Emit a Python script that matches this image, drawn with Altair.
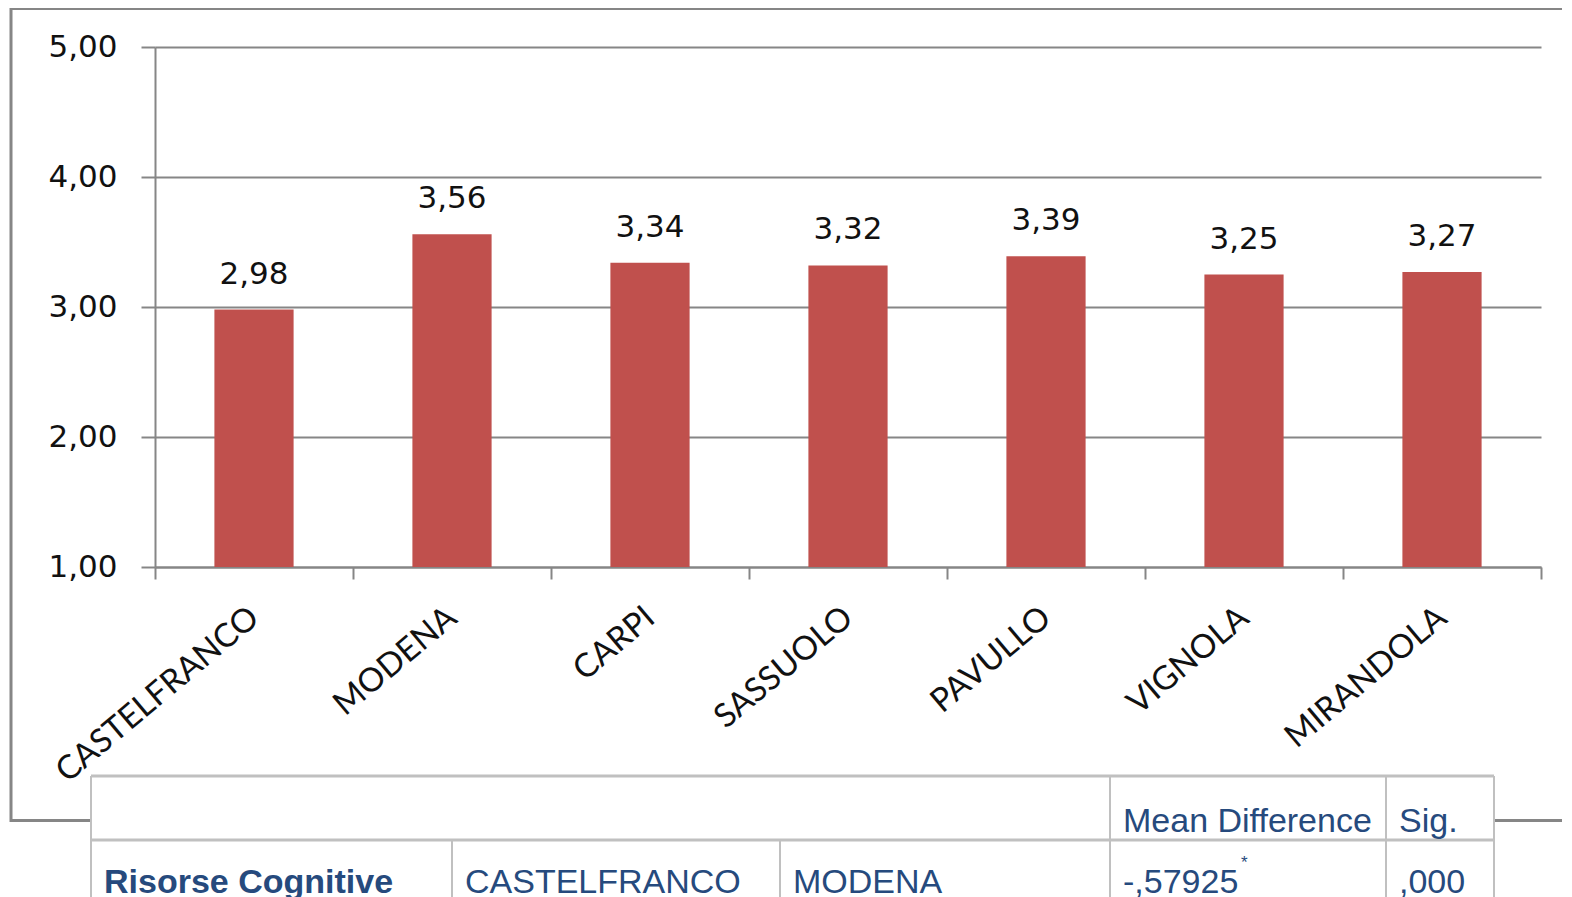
import altair as alt
import pandas as pd

# ---------------- data ----------------
cities = ["CASTELFRANCO", "MODENA", "CARPI", "SASSUOLO", "PAVULLO", "VIGNOLA", "MIRANDOLA"]
means = [2.98, 3.56, 3.34, 3.32, 3.39, 3.25, 3.27]
y_ticks = [1, 2, 3, 4, 5]

table_header = ["", "", "", "Mean Difference", "Sig."]
table_row = ["Risorse Cognitive", "CASTELFRANCO", "MODENA", "-,57925", ",000"]
table_note = "*"

# ---------------- layout / style ----------------
GRAY = "#868686"
BAR = "#C0504D"
TBL_TEXT = "#264A7D"
TBL_LINE = "#C0C0C0"

# page-pixel layout of the overlaid table (column edges, row lines)
COL_EDGES = [91, 452, 780, 1110, 1386, 1494]
ROW_TOP, ROW_HEAD, ROW_BOTTOM = 776, 840, 920
HEAD_BASE, BODY_BASE = 832, 893
TEXT_INSET = 13

df = pd.DataFrame({"city": cities, "mean": means})
df["label"] = [f"{v:.2f}".replace(".", ",") for v in means]

PX = alt.Scale(domain=[0, 1572], range=[-155, 1417])
PY = alt.Scale(domain=[0, 897], range=[-47, 850])

# ---------------- main chart ----------------
x_enc = alt.X(
    "city:N", sort=cities,
    scale=alt.Scale(paddingInner=0, paddingOuter=0),
    axis=alt.Axis(
        title=None, tickBand="extent", labelAngle=320, labelAlign="right",
        labelBaseline="middle", labelFont="Lato", labelFontSize=33,
        labelColor="#111111", labelPadding=34, labelOverlap=False, labelLimit=1000,
        domainColor=GRAY, domainWidth=2, tickColor=GRAY, tickWidth=2, tickSize=12,
    ),
)
y_enc = alt.Y(
    "mean:Q",
    scale=alt.Scale(domain=[1, 5], nice=False, zero=False),
    axis=alt.Axis(
        title=None, values=y_ticks,
        labelExpr="replace(format(datum.value, '.2f'), '.', ',')",
        labelFont="DejaVu Sans", labelFontSize=31, labelColor="#111111",
        labelPadding=24, grid=True, gridColor=GRAY, gridWidth=2,
        domainColor=GRAY, domainWidth=2, tickColor=GRAY, tickWidth=2, tickSize=14,
    ),
)

bars = alt.Chart(df).mark_bar(color=BAR, width=alt.RelativeBandSize(0.4)).encode(
    x=x_enc, y=y_enc, y2=alt.datum(1)
)
labels = alt.Chart(df).mark_text(
    dy=-26, baseline="alphabetic", font="DejaVu Sans", fontSize=31, color="#111111"
).encode(x=alt.X("city:N", sort=cities), y="mean:Q", text="label:N")

main = alt.layer(bars, labels)

# ---------------- outer frame ----------------
frame_df = pd.DataFrame({"k": [0]})
frame = alt.Chart(frame_df).mark_rect(fillOpacity=0, stroke=GRAY, strokeWidth=3).encode(
    x=alt.value(-144), x2=alt.value(1460), y=alt.value(-38.5), y2=alt.value(773.5)
)

# ---------------- table overlay ----------------
bg_df = pd.DataFrame({"x": [COL_EDGES[0]], "x2": [COL_EDGES[-1]], "y": [ROW_TOP], "y2": [ROW_BOTTOM]})
bg = alt.Chart(bg_df).mark_rect(color="white").encode(
    x=alt.X("x:Q", scale=PX, axis=None), x2="x2:Q",
    y=alt.Y("y:Q", scale=PY, axis=None), y2="y2:Q",
)

segs = []
segs.append((COL_EDGES[0], COL_EDGES[-1], ROW_TOP, ROW_TOP, 3))
segs.append((COL_EDGES[0], COL_EDGES[-1], ROW_HEAD, ROW_HEAD, 3))
for i, cx in enumerate(COL_EDGES):
    top = ROW_HEAD if i in (1, 2) else ROW_TOP
    segs.append((cx, cx, top, ROW_BOTTOM, 2))
seg_df = pd.DataFrame(segs, columns=["x", "x2", "y", "y2", "w"])
lines = alt.Chart(seg_df).mark_rule(color=TBL_LINE).encode(
    x=alt.X("x:Q", scale=PX, axis=None), x2="x2:Q",
    y=alt.Y("y:Q", scale=PY, axis=None), y2="y2:Q",
    strokeWidth=alt.StrokeWidth("w:Q", scale=None, legend=None),
)

cells = []
for i, t in enumerate(table_header):
    if t:
        cells.append((COL_EDGES[i] + TEXT_INSET, HEAD_BASE, t, "normal"))
for i, t in enumerate(table_row):
    cells.append((COL_EDGES[i] + TEXT_INSET, BODY_BASE, t, "bold" if i == 0 else "normal"))
cell_df = pd.DataFrame(cells, columns=["x", "y", "t", "wt"])

txt_norm = alt.Chart(cell_df[cell_df.wt == "normal"]).mark_text(
    align="left", baseline="alphabetic", font="Liberation Sans", fontSize=34, color=TBL_TEXT
).encode(x=alt.X("x:Q", scale=PX, axis=None), y=alt.Y("y:Q", scale=PY, axis=None), text="t:N")
txt_bold = alt.Chart(cell_df[cell_df.wt == "bold"]).mark_text(
    align="left", baseline="alphabetic", font="Liberation Sans", fontSize=34,
    fontWeight="bold", color=TBL_TEXT
).encode(x=alt.X("x:Q", scale=PX, axis=None), y=alt.Y("y:Q", scale=PY, axis=None), text="t:N")

note_df = pd.DataFrame({"x": [1241], "y": [868], "t": [table_note]})
note = alt.Chart(note_df).mark_text(
    align="left", baseline="alphabetic", font="Liberation Sans", fontSize=17, color=TBL_TEXT
).encode(x=alt.X("x:Q", scale=PX, axis=None), y=alt.Y("y:Q", scale=PY, axis=None), text="t:N")

table = alt.layer(bg, lines, txt_norm, txt_bold, note)

chart = (
    alt.layer(frame, main, table)
    .resolve_scale(x="independent", y="independent")
    .properties(
        width=1386, height=520,
        padding={"left": 147, "top": 39, "right": 21, "bottom": 330},
        autosize=alt.AutoSizeParams(type="none"),
        background="white",
    )
    .configure_view(stroke="transparent")
)

chart.save("out.html", embed_options={"renderer": "svg", "actions": False})
